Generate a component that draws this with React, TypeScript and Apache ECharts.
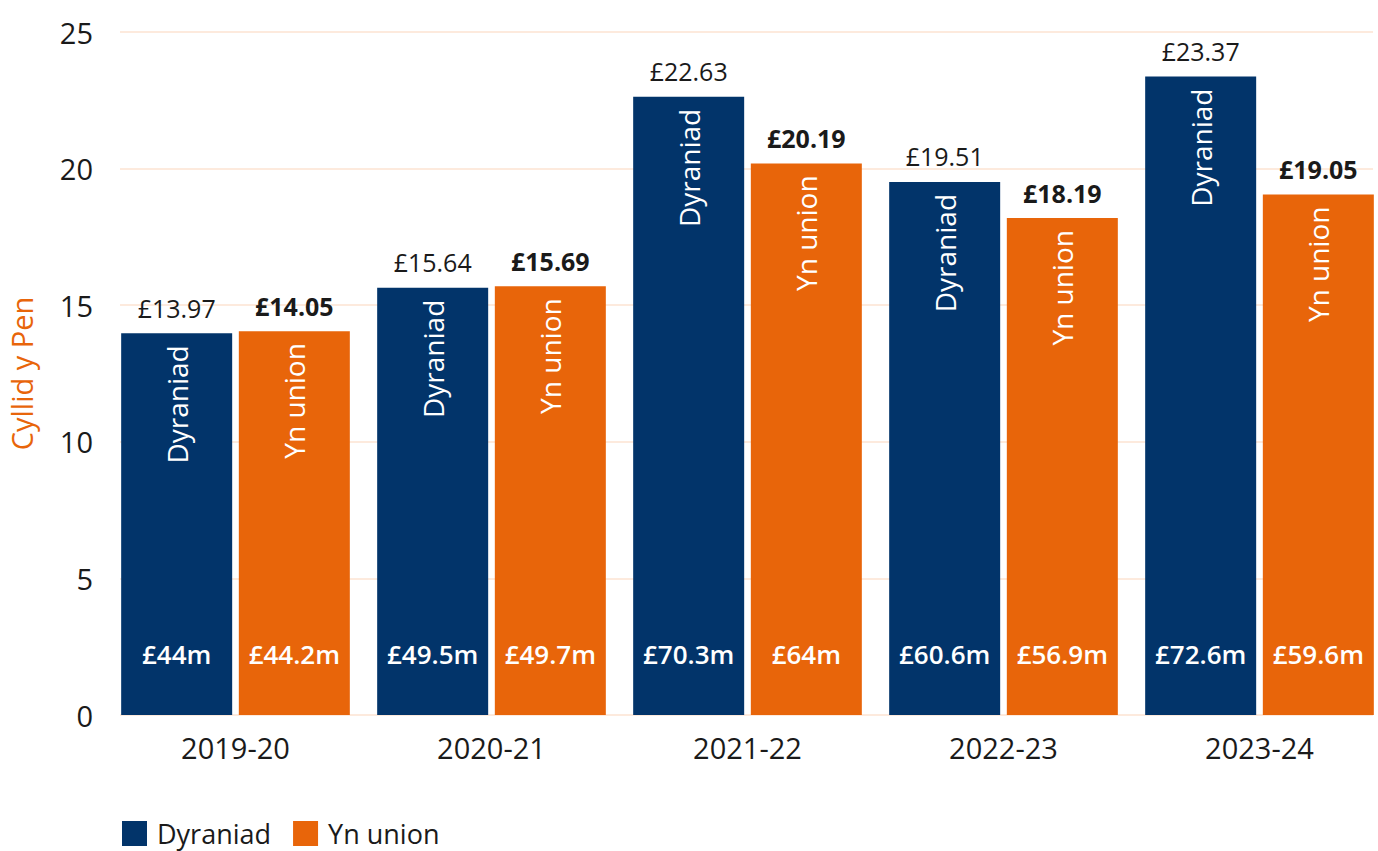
import React, { useEffect, useRef } from "react";
import * as echarts from "echarts";

const categories = ["2019-20", "2020-21", "2021-22", "2022-23", "2023-24"];
const dyraniadValues = [13.97, 15.64, 22.63, 19.51, 23.37];
const ynUnionValues = [14.05, 15.69, 20.19, 18.19, 19.05];
const dyraniadTotals = ["£44m", "£49.5m", "£70.3m", "£60.6m", "£72.6m"];
const ynUnionTotals = ["£44.2m", "£49.7m", "£64m", "£56.9m", "£59.6m"];
const seriesNames = ["Dyraniad", "Yn union"];
const yAxisName = "Cyllid y Pen";

const NAVY = "#02346a";
const ORANGE = "#e8650a";
const FONT = "'Open Sans', Lato, sans-serif";
const TEXT = "#1a1a1a";

export default function App() {
  const ref = useRef<HTMLDivElement>(null);
  useEffect(() => {
    if (!ref.current) return;
    const chart = echarts.init(ref.current, null, { renderer: "svg" });
    const barCommon = {
      type: "bar" as const,
      barWidth: 111,
      barGap: "6%",
      xAxisIndex: 0,
      yAxisIndex: 0,
    };
    const overlay = (axis: number, values: number[], label: any, name: string) => ({
      type: "bar" as const,
      name: name + "_ov" + axis,
      barWidth: 111,
      barGap: "6%",
      xAxisIndex: axis,
      yAxisIndex: 0,
      data: values,
      itemStyle: { color: "transparent" },
      label,
      silent: true,
      z: 5,
    });
    chart.setOption({
      animation: false,
      textStyle: { fontFamily: FONT },
      legend: {
        data: seriesNames,
        left: 117,
        top: 815,
        itemWidth: 25,
        itemHeight: 25,
        itemGap: 22,
        icon: "rect",
        textStyle: {
          fontSize: 27,
          lineHeight: 27,
          color: TEXT,
          fontFamily: FONT,
          padding: [0, 0, 0, 5],
        },
      },
      grid: [
        { left: 107.5, top: 32, width: 1280, height: 683, outerBoundsMode: "none", containLabel: false },
        { left: 120, top: 32, width: 1253, height: 683, outerBoundsMode: "none", containLabel: false },
      ],
      xAxis: [
        {
          type: "category",
          gridIndex: 0,
          data: categories,
          axisLine: { show: false },
          axisTick: { show: false },
          axisLabel: { fontSize: 29, color: TEXT, margin: 18, fontFamily: FONT },
        },
        { type: "category", gridIndex: 0, data: categories, show: false },
        { type: "category", gridIndex: 0, data: categories, show: false },
        { type: "category", gridIndex: 1, data: categories, show: false },
      ],
      yAxis: [
        { type: "value", gridIndex: 0, min: 0, max: 25, interval: 5, show: false, splitLine: { show: false } },
        {
          type: "value",
          gridIndex: 1,
          min: 0,
          max: 25,
          interval: 5,
          axisLine: { show: false },
          axisTick: { show: false },
          axisLabel: { fontSize: 29, color: TEXT, margin: 27, fontFamily: FONT },
          splitLine: { lineStyle: { color: "#fce3d2", width: 1.5 } },
          name: yAxisName,
          nameLocation: "middle",
          nameGap: 84,
          nameTextStyle: { color: ORANGE, fontSize: 29, fontFamily: FONT },
        },
      ],
      series: [
        {
          ...barCommon,
          name: seriesNames[0],
          data: dyraniadValues,
          itemStyle: { color: NAVY },
          label: {
            show: true,
            position: "top",
            distance: 13,
            fontSize: 25,
            color: TEXT,
            fontFamily: FONT,
            formatter: (p: any) => "£" + p.value.toFixed(2),
          },
        },
        {
          ...barCommon,
          name: seriesNames[1],
          data: ynUnionValues,
          itemStyle: { color: ORANGE },
          label: {
            show: true,
            position: "top",
            distance: 13,
            fontSize: 25,
            fontWeight: "bold",
            color: TEXT,
            fontFamily: FONT,
            formatter: (p: any) => "£" + p.value.toFixed(2),
          },
        },
        overlay(1, dyraniadValues, {
          show: true,
          position: "insideTop",
          rotate: 90,
          align: "right",
          verticalAlign: "middle",
          distance: 12,
          fontSize: 28,
          color: "#fff",
          fontFamily: FONT,
          formatter: () => seriesNames[0],
        }, seriesNames[0]),
        overlay(1, ynUnionValues, {
          show: true,
          position: "insideTop",
          rotate: 90,
          align: "right",
          verticalAlign: "middle",
          distance: 12,
          fontSize: 28,
          color: "#fff",
          fontFamily: FONT,
          formatter: () => seriesNames[1],
        }, seriesNames[1]),
        overlay(2, dyraniadValues, {
          show: true,
          position: "insideBottom",
          distance: 48,
          fontSize: 26,
          fontWeight: 600,
          color: "#fff",
          fontFamily: FONT,
          formatter: (p: any) => dyraniadTotals[p.dataIndex],
        }, seriesNames[0]),
        overlay(2, ynUnionValues, {
          show: true,
          position: "insideBottom",
          distance: 48,
          fontSize: 26,
          fontWeight: 600,
          color: "#fff",
          fontFamily: FONT,
          formatter: (p: any) => ynUnionTotals[p.dataIndex],
        }, seriesNames[1]),
      ],
    });
    return () => chart.dispose();
  }, []);
  return (
    <div
      ref={ref}
      style={{ position: "absolute", left: 0, top: 0, width: 1378, height: 851, background: "#fff" }}
    />
  );
}
